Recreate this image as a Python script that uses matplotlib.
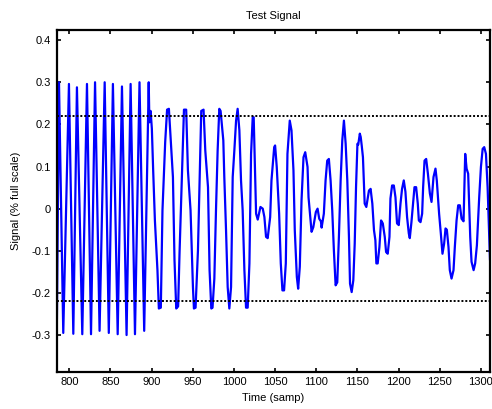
import numpy as np
import matplotlib
matplotlib.use('Agg')
import matplotlib.pyplot as plt

# sample times (samp) and signal values (% full scale)
t_samp = [785, 787.5, 792.7, 799.6, 804.9, 809.3, 815.8, 821.5, 826.4, 831.3,
          836.8, 843.0, 848.0, 853.0, 858.8, 864.0, 869.6, 874.5, 879.8, 885.3,
          891.0, 896.5, 897.3, 898.8, 900.3, 901.9, 904.0, 907.1, 908.8, 911.2,
          913.2, 916.5, 918.8, 921.0, 923.8, 925.9, 927.8, 929.9, 932.2, 933.9,
          937.2, 939.3, 942.0, 944.1, 947.3, 950.2, 951.4, 953.4, 956.3, 958.3,
          960.3, 963.1, 965.2, 968.5, 970.4, 972.5, 974.0, 976.2, 978.2, 980.2,
          982.2, 983.8, 987.1, 988.3, 990.4, 992.4, 994.4, 996.5, 998.5, 1000.5,
          1002.6, 1004.5, 1006.6, 1008.6, 1010.6, 1012.7, 1014.7, 1016.7, 1018.8, 1020.8,
          1022.8, 1024.0, 1025.7, 1026.9, 1028.9, 1032.2, 1035.0, 1037.0, 1039.0, 1041.0,
          1044.0, 1045.6, 1048.9, 1050.0, 1052.0, 1054.9, 1056.9, 1058.9, 1060.9, 1063.0,
          1065.0, 1067.8, 1069.9, 1072.3, 1073.9, 1076.4, 1078.0, 1080.0, 1082.1, 1084.5,
          1086.6, 1089.4, 1090.6, 1092.7, 1094.3, 1096.4, 1099.5, 1101.6, 1103.6, 1105.6,
          1106.5, 1109.2, 1111.3, 1113.3, 1115.3, 1117.4, 1119.4, 1121.4, 1123.5, 1125.5,
          1127.5, 1129.6, 1131.6, 1133.6, 1135.7, 1137.7, 1139.7, 1141.0, 1143.0, 1145.0,
          1146.7, 1148.3, 1150.0, 1151.0, 1152.9, 1154.0, 1155.2, 1156.7, 1158.8, 1160.8,
          1164.0, 1166.0, 1168.1, 1170.1, 1171.8, 1173.0, 1174.6, 1176.7, 1178.7, 1180.8,
          1183.2, 1184.8, 1186.8, 1188.9, 1190.1, 1192.1, 1194.2, 1196.2, 1198.1, 1200.2,
          1202.3, 1204.2, 1206.3, 1208.3, 1210.3, 1212.4, 1213.6, 1215.6, 1217.6, 1219.3,
          1221.3, 1223.3, 1224.6, 1226.6, 1228.6, 1229.8, 1231.5, 1233.5, 1235.6, 1238.0,
          1240.0, 1242.4, 1244.8, 1246.4, 1249.2, 1251.3, 1253.3, 1255.3, 1257.0, 1258.6,
          1260.6, 1262.2, 1264.3, 1266.7, 1268.3, 1270.4, 1272.4, 1274.4, 1276.5, 1278.9,
          1280.9, 1282.6, 1284.5, 1287.0, 1288.6, 1291.1, 1293.0, 1295.1, 1297.9, 1300.0,
          1302.1, 1304.0, 1306.1, 1308.1, 1311.0]
signal = [-0.26, 0.30, -0.295, 0.296, -0.297, 0.288, -0.298, 0.296, -0.298, 0.30,
          -0.29, 0.30, -0.295, 0.296, -0.298, 0.29, -0.30, 0.296, -0.298, 0.30,
          -0.29, 0.30, 0.205, 0.232, 0.19, 0.091, -0.028, -0.146, -0.237, -0.235,
          -0.004, 0.158, 0.235, 0.237, 0.146, 0.075, -0.122, -0.237, -0.232, -0.107,
          0.107, 0.235, 0.235, 0.091, -0.004, -0.186, -0.237, -0.235, -0.099, 0.067,
          0.232, 0.235, 0.138, 0.051, -0.146, -0.237, -0.235, -0.166, -0.004, 0.138,
          0.237, 0.232, 0.162, 0.075, -0.051, -0.186, -0.237, -0.186, 0.075, 0.138,
          0.209, 0.237, 0.186, 0.067, -0.004, -0.146, -0.235, -0.235, -0.13, 0.13,
          0.217, 0.217, 0.083, -0.012, -0.026, 0.004, 0.0, -0.02, -0.067, -0.07,
          -0.02, 0.067, 0.146, 0.15, 0.099, -0.012, -0.13, -0.194, -0.194, -0.13,
          0.13, 0.209, 0.186, 0.091, -0.051, -0.162, -0.19, -0.138, 0.02, 0.122,
          0.134, 0.099, 0.027, -0.02, -0.055, -0.044, -0.008, 0.0, -0.024, -0.03,
          -0.045, -0.012, 0.067, 0.114, 0.118, 0.067, -0.004, -0.099, -0.182, -0.175,
          -0.067, 0.067, 0.162, 0.209, 0.154, 0.067, -0.067, -0.178, -0.198, -0.17,
          -0.083, 0.051, 0.154, 0.152, 0.178, 0.17, 0.15, 0.122, 0.012, 0.004,
          0.043, 0.047, 0.012, -0.051, -0.075, -0.13, -0.13, -0.091, -0.028, -0.035,
          -0.067, -0.103, -0.107, -0.067, 0.024, 0.055, 0.055, 0.027, -0.035, -0.039,
          0.012, 0.047, 0.067, 0.04, -0.02, -0.059, -0.07, -0.032, 0.012, 0.051,
          0.051, 0.012, -0.028, -0.032, -0.012, 0.051, 0.114, 0.118, 0.083, 0.036,
          0.016, 0.075, 0.095, 0.067, -0.012, -0.059, -0.107, -0.083, -0.047, -0.05,
          -0.091, -0.146, -0.166, -0.146, -0.091, -0.028, 0.008, 0.008, -0.024, -0.03,
          0.13, 0.095, 0.083, -0.067, -0.126, -0.146, -0.13, -0.087, 0.027, 0.099,
          0.142, 0.146, 0.13, 0.051, -0.12]
limits = [0.22, -0.22]
y_ticks = [-0.3, -0.2, -0.1, 0, 0.1, 0.2, 0.3, 0.4]
x_ticks = [800, 850, 900, 950, 1000, 1050, 1100, 1150, 1200, 1250, 1300]

matplotlib.rc('font', family=['Liberation Sans', 'DejaVu Sans'], size=8)
matplotlib.rc('axes', unicode_minus=False)

fig = plt.figure(figsize=(4.92, 4.09), dpi=100)
ax = fig.add_axes([0.1152, 0.0912, 0.8807, 0.8354])

ax.plot(t_samp, signal, color='#0000ff', lw=1.6)
for lv in limits:
    ax.axhline(lv, color='black', lw=1.4, linestyle=(0, (1, 1)))

ax.set_xlim(784.7, 1311)
ax.set_ylim(-0.387, 0.424)
ax.set_xticks(x_ticks)
ax.set_yticks(y_ticks)
ax.set_yticklabels(['-0.3', '-0.2', '-0.1', '0', '0.1', '0.2', '0.3', '0.4'])
ax.tick_params(direction='in', top=True, right=True, length=3, width=1.2, pad=4)
for s in ax.spines.values():
    s.set_linewidth(1.6)

ax.set_title('Test Signal', fontsize=8, pad=8)
ax.set_xlabel('Time (samp)', labelpad=4)
ax.set_ylabel('Signal (% full scale)', labelpad=8)

plt.savefig('out.png')
